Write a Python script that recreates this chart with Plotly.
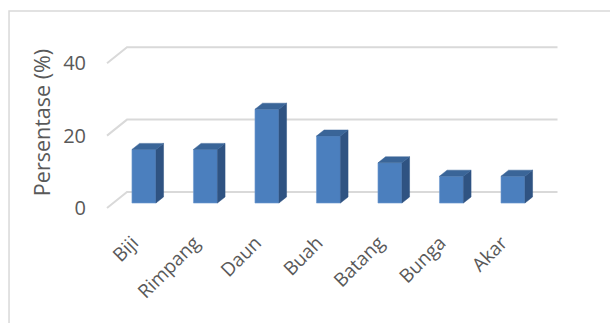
import plotly.graph_objects as go

categories = ["Biji", "Rimpang", "Daun", "Buah", "Batang", "Bunga", "Akar"]
values = [14.8, 14.8, 25.9, 18.5, 11.1, 7.4, 7.4]
y_ticks = [0, 20, 40]
y_title = "Persentase (%)"

# 3D-look geometry (data units)
DX, DY = 0.325, 4.42          # floor depth vector (front -> back wall)
F = 0.31                      # depth fraction of bar front face
BD = 0.38                     # bar depth fraction
BW = 0.39                     # bar width
n = len(categories)
bx = [i + F * DX for i in range(n)]
base = F * DY
sdx, sdy = BD * DX, BD * DY

FRONT = "#4b7fbe"
SIDE = "#2f5382"
TOP = "#3a6598"
GRID = "#d9d9d9"
TXT = "#595959"

fig = go.Figure()

# back-wall gridlines with left-wall diagonal (below all traces)
for v in y_ticks:
    path = (f"M {-0.5} {v} L {-0.5 + DX} {v + DY} L {n - 0.5 + DX} {v + DY}")
    fig.add_shape(type="path", path=path, xref="x", yref="y", layer="below",
                  line=dict(color=GRID, width=2))

# front faces
fig.add_trace(go.Bar(x=bx, y=values, base=base, width=BW,
                     marker=dict(color=FRONT, line=dict(color="#6f9bd0", width=0.6))))

# side and top faces
sx, sy = [], []
tx, ty = [], []
for x, v in zip(bx, values):
    xr = x + BW / 2
    xl = x - BW / 2
    top = base + v
    sx += [xr, xr + sdx, xr + sdx, xr, xr, None]
    sy += [base, base + sdy, top + sdy, top, base, None]
    tx += [xl, xr, xr + sdx, xl + sdx, xl, None]
    ty += [top, top, top + sdy, top + sdy, top, None]
fig.add_trace(go.Scatter(x=sx, y=sy, mode="lines", fill="toself", fillcolor=SIDE,
                         line=dict(color=SIDE, width=0.5), hoverinfo="skip"))
fig.add_trace(go.Scatter(x=tx, y=ty, mode="lines", fill="toself", fillcolor=TOP,
                         line=dict(color=TOP, width=0.5), hoverinfo="skip"))

# outer chart border
fig.add_shape(type="rect", xref="paper", yref="paper",
              x0=-0.1736, x1=1.094, y0=-0.62, y1=1.1027,
              line=dict(color=GRID, width=1.5))

fig.update_layout(
    width=610, height=323,
    margin=dict(l=92, r=40, t=30, b=108),
    plot_bgcolor="white", paper_bgcolor="white",
    showlegend=False,
    font=dict(family="Open Sans", color=TXT, size=17),
    xaxis=dict(range=[-0.744, 7.028], tickvals=[i - 0.08 for i in range(n)],
               ticktext=categories,
               tickangle=-45, showgrid=False, zeroline=False, showline=False,
               ticks="", ticklabelstandoff=12, tickfont=dict(size=19, color=TXT)),
    yaxis=dict(range=[-1.934, 49.17], tickvals=y_ticks, showgrid=False,
               zeroline=False, showline=False, ticks="",
               tickfont=dict(size=20, color=TXT), ticklabelstandoff=5,
               title=dict(text=y_title, font=dict(size=21.5, color=TXT), standoff=6)),
)

fig.write_html("out.html")
